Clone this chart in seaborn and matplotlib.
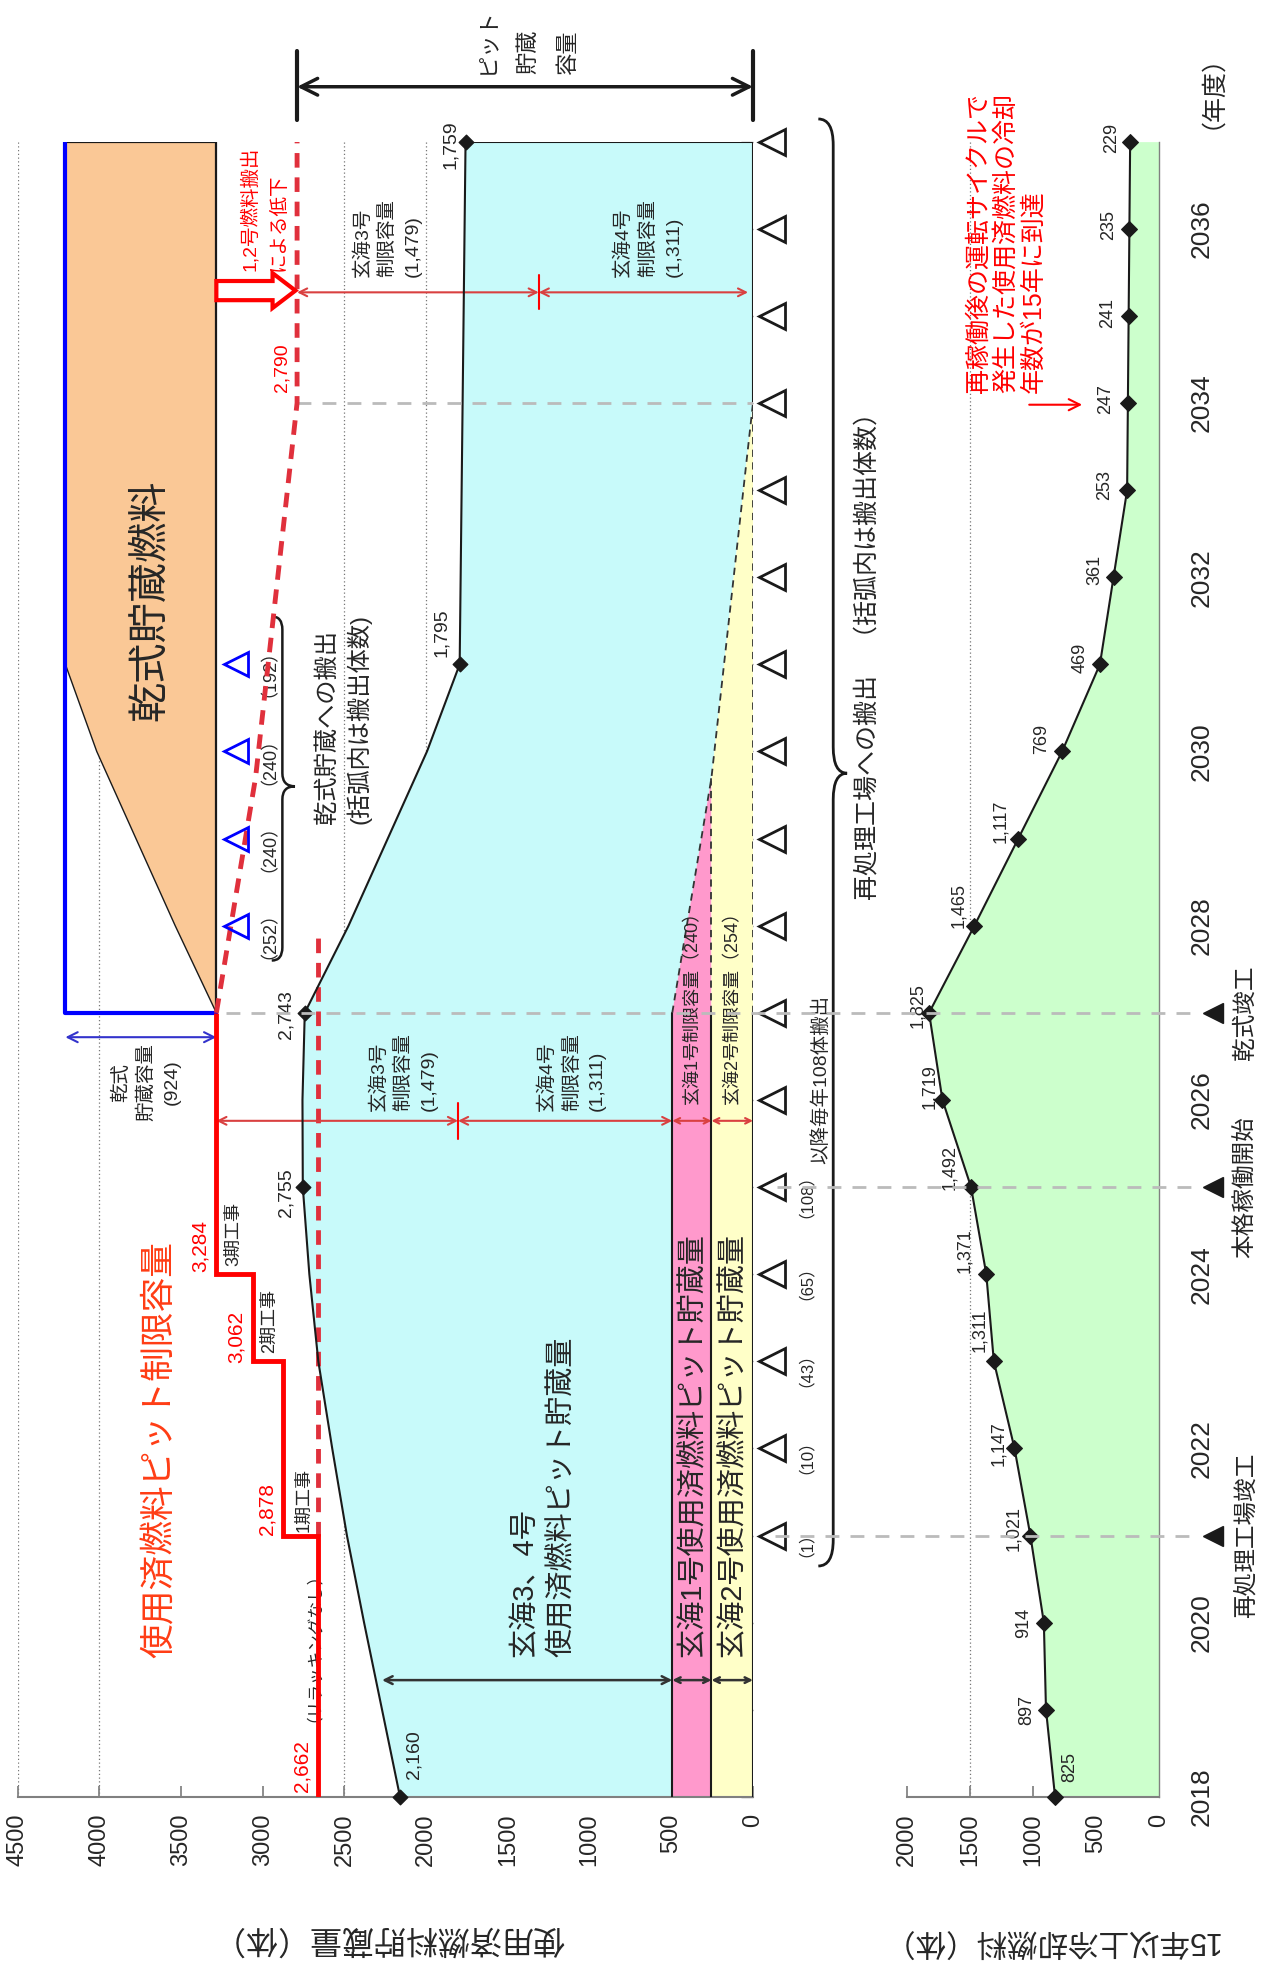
import numpy as np
import pandas as pd
import matplotlib
matplotlib.use("Agg")
import matplotlib.pyplot as plt
import matplotlib.transforms as mtransforms
from matplotlib.lines import Line2D
from matplotlib.patches import FancyArrow, PathPatch
from matplotlib.path import Path
import seaborn as sns

# ────────────────────────────────────────────────────────
# データ
years_total = [2018, 2019, 2020, 2021, 2022, 2023, 2024, 2025, 2026, 2027, 2028, 2029, 2030, 2031, 2037]
stock_total = [2160, 2270, 2380, 2485, 2575, 2660, 2715, 2755, 2757, 2743, 2475, 2235, 1995, 1795, 1759]
mark_years = [2018, 2025, 2027, 2031, 2037]
mark_vals = [2160, 2755, 2743, 1795, 1759]

unit12_years = [2018, 2027, 2029.7, 2034, 2037]
unit12_vals = [494, 494, 254, 0, 0]
cap_unit1 = 240
cap_unit2 = 254
cap_unit3 = 1479
cap_unit4 = 1311

limit_edges = [2018, 2021, 2023, 2024, 2027]
limit_vals = [2662, 2878, 3062, 3284]
limit_after_years = [2027, 2029.7, 2034, 2037]
limit_after_vals = [3284, 3044, 2790, 2790]
norerack_years = [2021, 2027.9]

dry_years = [2027, 2028, 2029, 2030, 2031, 2037]
dry_cum = [0, 252, 492, 732, 924, 924]
dry_out_years = [2028, 2029, 2030, 2031]
dry_out = [252, 240, 240, 192]
dry_cap = 924

rep_years = list(range(2021, 2038))
rep_label_years = [2021, 2022, 2023, 2024, 2025]
rep_out = [1, 10, 43, 65, 108]

cool_years = list(range(2018, 2038))
cool_vals = [825, 897, 914, 1021, 1147, 1311, 1371, 1492, 1719, 1825,
             1465, 1117, 769, 469, 361, 253, 247, 241, 235, 229]

event_years = [2021, 2025, 2027]
event_labels = ["再処理工場竣工", "本格稼働開始", "乾式竣工"]

# ────────────────────────────────────────────────────────
sns.set_theme(style="white")
plt.rcParams['font.family'] = ['Liberation Sans', 'Noto Sans CJK JP', 'DejaVu Sans']

CYAN = "#C8FAFA"
PINK = "#FF99CC"
YELLOW = "#FFFFC8"
ORANGE = "#FAC896"
GREEN = "#CCFFCC"
RED = "#FF0000"
DRED = "#E0303C"
ARED = "#D94040"

fig = plt.figure(figsize=(12.7, 19.67), dpi=100)
axL = fig.add_axes([0.0139, 0.0865, 0.5790, 0.8415])
axR = fig.add_axes([0.7142, 0.0865, 0.1984, 0.8415])


def vtext(ax, x, y, s, size, **kw):
    ha = kw.pop('ha', 'center')
    va = kw.pop('va', 'center')
    return ax.text(x, y, s, rotation=90, fontsize=size, ha=ha, va=va, **kw)


def mline(ax, x, y, lines, size, gap, va='center', **kw):
    # 複数行を行ごとに等間隔で配置 (va='bottom' は行頭揃え), ベースライン基準
    n = len(lines)
    ha = 'left' if va == 'bottom' else 'center'
    for i, s in enumerate(lines):
        off = (i - (n - 1) / 2) * gap + 0.36 * size
        ax.annotate(s, xy=(x, y), xytext=(off, 0), textcoords='offset points',
                    rotation=90, rotation_mode='anchor', ha=ha, va='baseline',
                    fontsize=size, annotation_clip=False, **kw)


def darrow(ax, x0, x1, y, color, lw=1.5, ms=14, style='<->'):
    ax.annotate('', xy=(x0, y), xytext=(x1, y), annotation_clip=False,
                arrowprops=dict(arrowstyle=style, color=color, lw=lw,
                                mutation_scale=ms, shrinkA=0, shrinkB=0))


def brace(ax, x, y0, y1, ym, hook, tip, ry, lw=2):
    verts = [(x + hook, y0), (x, y0), (x, y0 + ry),
             (x, ym - ry),
             (x, ym), (x - tip, ym),
             (x, ym), (x, ym + ry),
             (x, y1 - ry),
             (x, y1), (x + hook, y1)]
    codes = [Path.MOVETO, Path.CURVE3, Path.CURVE3, Path.LINETO,
             Path.CURVE3, Path.CURVE3, Path.CURVE3, Path.CURVE3,
             Path.LINETO, Path.CURVE3, Path.CURVE3]
    p = PathPatch(Path(verts, codes), fill=False, lw=lw, ec='k', clip_on=False)
    ax.add_patch(p)


# ────────────────────────────────────────────────────────
# 左パネル: 使用済燃料貯蔵量
for g in [4500, 4000, 2500, 2000, 1500, 1000, 500]:
    axL.axvline(g, color='#777777', ls=(0, (1, 2)), lw=0.9, zorder=0)

# 玄海3,4号 (シアン)
cy_x = list(stock_total) + unit12_vals[::-1]
cy_y = list(years_total) + unit12_years[::-1]
axL.fill(cy_x, cy_y, color=CYAN, lw=0, zorder=1)
# 玄海1号 (ピンク)
axL.fill([unit12_vals[0], unit12_vals[1], cap_unit2, cap_unit2],
         [unit12_years[0], unit12_years[1], unit12_years[2], unit12_years[0]],
         color=PINK, lw=0, zorder=1)
# 玄海2号 (黄)
axL.fill([cap_unit2, cap_unit2, 0, 0],
         [unit12_years[0], unit12_years[2], unit12_years[3], unit12_years[0]],
         color=YELLOW, lw=0, zorder=1)

# 乾式貯蔵燃料 (オレンジ)
base = limit_vals[-1]
dry_x = [base + d for d in dry_cum] + [base]
dry_y = dry_years + [2037]
axL.fill(dry_x, dry_y, color=ORANGE, lw=0, zorder=1)
axL.plot([base + d for d in dry_cum[:5]], dry_years[:5], color='k', lw=1.0, zorder=3)
axL.plot([base + dry_cap, base, base], [2037, 2037, 2027], color='k', lw=1.6, zorder=3)
axL.plot([base, base + dry_cap, base + dry_cap], [2027, 2027, 2037], color='#0000FF', lw=3, zorder=4)

# 輪郭線
for v in [unit12_vals[0], cap_unit2, 0]:
    axL.plot([v, v], [2018, 2027], color='k', lw=1.5, zorder=3)
axL.plot(unit12_vals[1:4], unit12_years[1:4], color='#333333', lw=1.3, ls=(0, (4, 3)), zorder=3)
axL.plot([cap_unit2, cap_unit2], [2027, 2029.7], color='#333333', lw=1.3, ls=(0, (4, 3)), zorder=3)
axL.plot([0, 0], [2027, 2034], color='#333333', lw=1.3, ls=(0, (4, 3)), zorder=3)
axL.plot([0, 0, mark_vals[-1]], [2034, 2037, 2037], color='k', lw=1.5, zorder=3)

# 合計貯蔵量ライン
sns.lineplot(x=stock_total, y=years_total, orient='y', estimator=None, color='k',
             lw=1.5, ax=axL, zorder=4)
axL.scatter(mark_vals, mark_years, marker='D', color='k', s=55, zorder=6, clip_on=False)
tot_lab_pos = [(2073, 2018.49), (2857, 2024.94), (2857, 2026.98), (1904, 2031.36), (1851, 2036.96)]
for (px, py), v in zip(tot_lab_pos, mark_vals):
    vtext(axL, px, py, f"{v:,}", 14)

# 制限容量 (赤)
axL.stairs(limit_vals, limit_edges, orientation='horizontal', baseline=None,
           color=RED, lw=3.5, zorder=5)
axL.plot(limit_after_vals, limit_after_years, color=DRED, lw=3.5, ls=(0, (3, 2)), zorder=5)
axL.plot([limit_vals[0], limit_vals[0]], norerack_years, color=DRED, lw=3.5, ls=(0, (3, 2)), zorder=2)

vtext(axL, 2757, 2018.35, "2,662", 15, color=RED)
vtext(axL, 2745, 2019.81, "（リラッキングなし）", 12)
vtext(axL, 2975, 2021.30, "2,878", 15, color=RED)
vtext(axL, 2745, 2021.41, "1期工事", 13)
vtext(axL, 3160, 2023.28, "3,062", 15, color=RED)
vtext(axL, 2958, 2023.46, "2期工事", 13)
vtext(axL, 3380, 2024.32, "3,284", 15, color=RED)
vtext(axL, 3178, 2024.46, "3期工事", 13)
vtext(axL, 3629, 2021.99, "使用済燃料ピット制限容量", 25, color="#FF3C14")
vtext(axL, 2880, 2034.4, "2,790", 14, color=RED)

# 乾式関連
vtext(axL, 3690, 2031.73, "乾式貯蔵燃料", 29)
darrow(axL, base + dry_cap, base, 2026.72, '#3333CC', lw=1.5, ms=18)
mline(axL, 3725, 2026.2, ["乾式", "貯蔵容量", f"({dry_cap})"], 14, 18)
axL.plot([3164] * len(dry_out_years), dry_out_years, ls='none', marker='<', ms=17,
         mfc='none', mec='#0000FF', mew=2, zorder=6)
for yy, n in zip(dry_out_years, dry_out):
    vtext(axL, 3018, yy, f"（{n}）", 13)
brace(axL, 2880, 2027.6, 2031.55, 2029.6, 65, 77, 0.15, lw=1.8)
mline(axL, 2519, 2029.17, ["乾式貯蔵への搬出", "(括弧内は搬出体数)"], 17.5, 24, va='bottom')

# 1,2号燃料搬出による低下
axL.add_patch(FancyArrow(base, 2035.29, -(base - 2800), 0, width=0.22, head_width=0.40,
                         head_length=140, length_includes_head=True,
                         fc='white', ec=RED, lw=3, zorder=7))
mline(axL, 3003, 2035.52, ["1,2号燃料搬出", "による低下"], 14, 20, va='bottom', color=RED)

# 制限容量の矢印 (上)
darrow(axL, 2790, cap_unit4, 2035.27, ARED)
darrow(axL, cap_unit4, 30, 2035.27, ARED)
axL.plot([cap_unit4, cap_unit4], [2035.08, 2035.47], color=RED, lw=1.5)
mline(axL, 2250, 2035.45, ["玄海3号", "制限容量", f"({cap_unit3:,})"], 14, 18, va='bottom')
mline(axL, 653, 2035.45, ["玄海4号", "制限容量", f"({cap_unit4:,})"], 14, 18, va='bottom')

# 制限容量の矢印 (中)
s34 = base - cap_unit3
darrow(axL, base, s34, 2025.76, ARED)
darrow(axL, s34, unit12_vals[0], 2025.76, ARED)
darrow(axL, unit12_vals[0], cap_unit2, 2025.76, ARED, ms=10)
darrow(axL, cap_unit2, 0, 2025.76, ARED, ms=10)
axL.plot([s34, s34], [2025.55, 2025.97], color=RED, lw=1.5)
mline(axL, 2150, 2025.87, ["玄海3号", "制限容量", f"({cap_unit3:,})"], 14, 18, va='bottom')
mline(axL, 1121, 2025.87, ["玄海4号", "制限容量", f"({cap_unit4:,})"], 14, 18, va='bottom')
vtext(axL, 370, 2025.95, f"玄海1号制限容量（{cap_unit1}）", 13, va='bottom')
vtext(axL, 127, 2025.95, f"玄海2号制限容量（{cap_unit2}）", 13, va='bottom')

# 貯蔵量の矢印 (下)
darrow(axL, 2270, unit12_vals[0], 2019.34, '#333333', lw=1.8)
darrow(axL, unit12_vals[0], cap_unit2, 2019.34, '#333333', lw=1.8, ms=10)
darrow(axL, cap_unit2, 0, 2019.34, '#333333', lw=1.8, ms=10)
mline(axL, 1298, 2019.6, ["玄海3、4号", "使用済燃料ピット貯蔵量"], 21, 27, va='bottom')
vtext(axL, 370, 2019.6, "玄海1号使用済燃料ピット貯蔵量", 21, va='bottom')
vtext(axL, 127, 2019.6, "玄海2号使用済燃料ピット貯蔵量", 21, va='bottom')

# ピット貯蔵容量
darrow(axL, 2790, 0, 2037.63, 'k', lw=2.5, ms=30)
for v in [2790, 0]:
    axL.plot([v, v], [2037.25, 2038.04], color='k', lw=3, clip_on=False)
mline(axL, 1390, 2037.78, ["ピット", "貯蔵", "容量"], 16, 29, va='bottom')

# 再処理工場への搬出
axL.plot([-115] * len(rep_years), rep_years, ls='none', marker='<', ms=19,
         mfc='none', mec='k', mew=2, clip_on=False, zorder=6)
for yy, n in zip(rep_label_years, rep_out):
    vtext(axL, -269, yy, f"（{n}）", 12)
vtext(axL, -415, 2025.27, "以降毎年108体搬出", 14, va='bottom')
brace(axL, -491, 2020.65, 2037.26, 2029.75, 91, 85, 0.3, lw=2)
vtext(axL, -699, 2028.29, "再処理工場への搬出　（括弧内は搬出体数）", 18, va='bottom')

axL.plot([2790, 0], [2034, 2034], color='#BBBBBB', lw=2, ls=(0, (5, 4)), zorder=4)

axL.set_xlim(4500, 0)
axL.set_ylim(2018, 2037)
axL.set_xticks(range(0, 4501, 500))
axL.tick_params(axis='x', direction='in', length=8, color='#808080', labelsize=17,
                labelrotation=90, pad=12, bottom=True)
axL.set_yticks(range(2018, 2038))
axL.yaxis.tick_right()
axL.tick_params(axis='y', direction='in', length=9, color='#808080', labelright=False,
                right=True, width=1)
for sp in ['top', 'left', 'right']:
    axL.spines[sp].set_visible(False)
axL.spines['bottom'].set_color('#808080')
axL.spines['bottom'].set_linewidth(1.5)
axL.set_xlabel('')
axL.set_ylabel('')

# ────────────────────────────────────────────────────────
# 右パネル: 15年以上冷却燃料
axR.axvline(1500, color='#777777', ls=(0, (1, 2)), lw=0.9, zorder=0)
axR.fill_betweenx(cool_years, 0, cool_vals, color=GREEN, lw=0, zorder=1)
sns.lineplot(x=cool_vals, y=cool_years, orient='y', estimator=None, color='k', lw=1.5,
             marker='D', markersize=8, markeredgecolor='k', ax=axR, zorder=4, clip_on=False)
cool_offsets = [(12, -24), (-15, 0), (-16, 0), (-13, -6), (-13, -4), (-11, -25), (-17, -19),
                (-17, -16), (-10, -11), (-9, -6), (-13, -16), (-14, -14), (-16, -10),
                (-16, -5), (-15, -6), (-18, -4), (-18, -3), (-17, -2), (-17, -3), (-15, -3)]
for yy, v, (dx, dy) in zip(cool_years, cool_vals, cool_offsets):
    axR.annotate(f"{v:,}", xy=(v, yy), xytext=(dx * 0.9, -dy * 0.9), textcoords='offset points',
                 rotation=90, ha='center', va='center', fontsize=13, annotation_clip=False)

mline(axR, 1230, 2034.12, ["再稼働後の運転サイクルで", "発生した使用済燃料の冷却", "年数が15年に到達"],
      18, 20, va='bottom', color=RED)
axR.annotate('', xy=(610, 2033.98), xytext=(1030, 2033.98),
             arrowprops=dict(arrowstyle='->', color=RED, lw=1.5, mutation_scale=20,
                             shrinkA=0, shrinkB=0))

axR.set_xlim(2000, 0)
axR.set_ylim(2018, 2037)
axR.set_xticks([2000, 1500, 1000, 500, 0])
axR.tick_params(axis='x', direction='in', length=8, color='#808080', labelsize=17,
                labelrotation=90, pad=12, bottom=True)
axR.set_yticks(list(range(2018, 2037, 2)))
axR.yaxis.tick_right()
axR.tick_params(axis='y', length=0, labelsize=19, labelrotation=90, pad=22, labelright=True)
for lab in axR.get_yticklabels():
    lab.set_va('center')
for sp in ['top', 'left']:
    axR.spines[sp].set_visible(False)
axR.spines['bottom'].set_color('#808080')
axR.spines['bottom'].set_linewidth(1.5)
axR.spines['right'].set_color('#808080')
axR.spines['right'].set_linewidth(1.0)
axR.set_xlabel('')
axR.set_ylabel('')

# ────────────────────────────────────────────────────────
# 図全体の注記
tr = mtransforms.blended_transform_factory(fig.transFigure, axL.transData)
for yy, x0 in [(2027, 0.178), (2025, 0.612), (2021, 0.610)]:
    fig.add_artist(Line2D([x0, 0.939], [yy, yy], transform=tr, color='#BBBBBB', lw=2,
                          ls=(0, (5, 4)), zorder=5))
fig.add_artist(Line2D([0.955] * len(event_years), event_years, transform=tr, ls='none',
                      marker='<', ms=14, color='k', zorder=6))
for yy, s in zip(event_years, event_labels):
    fig.text(0.981, yy, s, transform=tr, rotation=90, ha='center', va='center', fontsize=17)

fig.text(0.944, 0.960, "（年度）", rotation=90, ha='center', va='center', fontsize=18)
fig.text(0.306, 0.0147, "使用済燃料貯蔵量（体）", rotation=180, ha='center', va='center', fontsize=23)
fig.text(0.826, 0.0140, "15年以上冷却燃料（体）", rotation=180, ha='center', va='center', fontsize=22)

fig.savefig('out.png', dpi=100)
